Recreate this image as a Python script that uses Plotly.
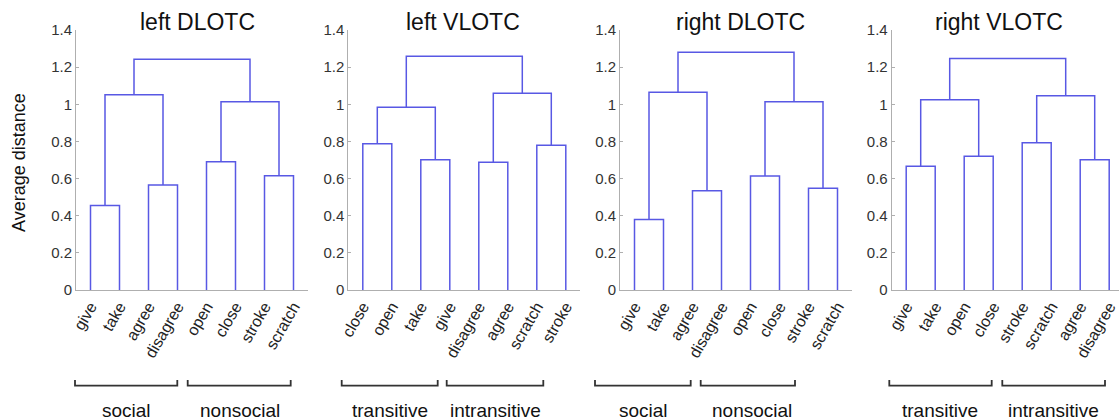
import plotly.graph_objects as go

W, H = 1119, 420

# ---------------- data ----------------
titles = ["left DLOTC", "left VLOTC", "right DLOTC", "right VLOTC"]

labels_p1 = ["give", "take", "agree", "disagree", "open", "close", "stroke", "scratch"]
labels_p2 = ["close", "open", "take", "give", "disagree", "agree", "scratch", "stroke"]
labels_p3 = ["give", "take", "agree", "disagree", "open", "close", "stroke", "scratch"]
labels_p4 = ["give", "take", "open", "close", "stroke", "scratch", "agree", "disagree"]

# heights of the pair merges (leaves 1-2, 3-4, 5-6, 7-8)
pair_h_p1 = [0.455, 0.565, 0.69, 0.615]
pair_h_p2 = [0.788, 0.702, 0.688, 0.779]
pair_h_p3 = [0.38, 0.535, 0.614, 0.548]
pair_h_p4 = [0.666, 0.72, 0.793, 0.702]

# heights of the group merges (left half, right half)
group_h_p1 = [1.052, 1.014]
group_h_p2 = [0.984, 1.059]
group_h_p3 = [1.065, 1.014]
group_h_p4 = [1.025, 1.046]

# height of the root merge
top_h = [1.242, 1.258, 1.280, 1.246]

group_names = [["social", "nonsocial"], ["transitive", "intransitive"],
               ["social", "nonsocial"], ["transitive", "intransitive"]]

y_ticks = [0, 0.2, 0.4, 0.6, 0.8, 1.0, 1.2, 1.4]
y_ticktext = ["0", "0.2", "0.4", "0.6", "0.8", "1", "1.2", "1.4"]

labels_all = [labels_p1, labels_p2, labels_p3, labels_p4]
pairs_all = [pair_h_p1, pair_h_p2, pair_h_p3, pair_h_p4]
groups_all = [group_h_p1, group_h_p2, group_h_p3, group_h_p4]

# ---------------- layout geometry (pixels) ----------------
axis_left_px = [76, 348.3, 620, 891.7]
panel_w = 232.0
unit_px = panel_w / 8.0
y0_px, y1_px = 290, 30

# bracket spans (pixels) and label centres
brackets_px = [[(75, 177.3), (187.7, 290.7)],
               [(341.7, 437.7), (446.7, 543.3)],
               [(595, 690.7), (700.7, 795)],
               [(889.3, 991.7), (1002.3, 1105)]]
group_lab_px = [[126.7, 240], [389.7, 495], [643, 752], [940, 1053]]
title_px = [197.5, 463.3, 740, 998.8]


def px(x):
    return x / W


def py(y):
    return 1 - y / H


LINE = "rgb(88,88,228)"
AXIS = "rgb(175,175,175)"
FONT = "Liberation Sans, Arial, sans-serif"

fig = go.Figure()

for i in range(4):
    ph = pairs_all[i]
    gh = groups_all[i]
    th = top_h[i]
    leaf_x = list(range(1, 9))
    xs, ys = [], []
    pair_x = []
    for k in range(4):
        a, b = leaf_x[2 * k], leaf_x[2 * k + 1]
        xs += [a, a, b, b, None]
        ys += [0, ph[k], ph[k], 0, None]
        pair_x.append((a + b) / 2)
    grp_x = []
    for g in range(2):
        a, b = pair_x[2 * g], pair_x[2 * g + 1]
        ha, hb = ph[2 * g], ph[2 * g + 1]
        xs += [a, a, b, b, None]
        ys += [ha, gh[g], gh[g], hb, None]
        grp_x.append((a + b) / 2)
    a, b = grp_x
    xs += [a, a, b, b]
    ys += [gh[0], th, th, gh[1]]
    n = "" if i == 0 else str(i + 1)
    fig.add_trace(go.Scatter(x=xs, y=ys, mode="lines", xaxis="x" + n, yaxis="y" + n,
                             line=dict(color=LINE, width=1.5), hoverinfo="skip",
                             showlegend=False, cliponaxis=False))

    left = axis_left_px[i]
    right = min(left + panel_w, W)
    xmax = 0.5 + (right - left) / unit_px
    fig.update_layout(**{
        "xaxis" + n: dict(domain=[px(left), px(right)], range=[0.5, xmax],
                          anchor="y" + n, tickvals=leaf_x, ticktext=labels_all[i],
                          tickangle=-60, showline=True, linecolor=AXIS, linewidth=1,
                          ticks="", showgrid=False, zeroline=False, layer="below traces",
                          automargin=False, fixedrange=True,
                          tickfont=dict(family=FONT, size=16, color="#222")),
        "yaxis" + n: dict(domain=[py(y0_px), py(y1_px)], range=[0, 1.4],
                          anchor="x" + n, tickvals=y_ticks, ticktext=y_ticktext,
                          showline=True, linecolor=AXIS, linewidth=1, ticks="inside",
                          ticklen=3, tickcolor=AXIS, showgrid=False, zeroline=False,
                          layer="below traces", automargin=False, fixedrange=True,
                          tickfont=dict(family=FONT, size=15, color="#333")),
    })

    # title
    fig.add_annotation(x=px(title_px[i]), y=py(22), xref="paper", yref="paper",
                       text=titles[i], showarrow=False, xanchor="center", yanchor="middle",
                       font=dict(family=FONT, size=23, color="#111"))

    # brackets and group labels
    for g in range(2):
        xa, xb = brackets_px[i][g]
        fig.add_shape(type="path", xref="paper", yref="paper",
                      path=f"M {px(xa)},{py(380)} L {px(xa)},{py(385.7)} "
                           f"L {px(xb)},{py(385.7)} L {px(xb)},{py(380)}",
                      line=dict(color="#333", width=1.8))
        fig.add_annotation(x=px(group_lab_px[i][g]), y=py(410), xref="paper", yref="paper",
                           text=group_names[i][g], showarrow=False, xanchor="center",
                           yanchor="middle", font=dict(family=FONT, size=19, color="#111"))

# y-axis title
fig.add_annotation(x=px(19), y=py(163), xref="paper", yref="paper", text="Average distance",
                   textangle=-90, showarrow=False, xanchor="center", yanchor="middle",
                   font=dict(family=FONT, size=18, color="#111"))

fig.update_layout(width=W, height=H, margin=dict(l=0, r=0, t=0, b=0, autoexpand=False),
                  paper_bgcolor="white", plot_bgcolor="white", showlegend=False)

fig.write_html("out.html", config={"displayModeBar": False},
               post_script="document.body.style.margin='0px';"
                           "document.body.style.overflow='hidden';")
